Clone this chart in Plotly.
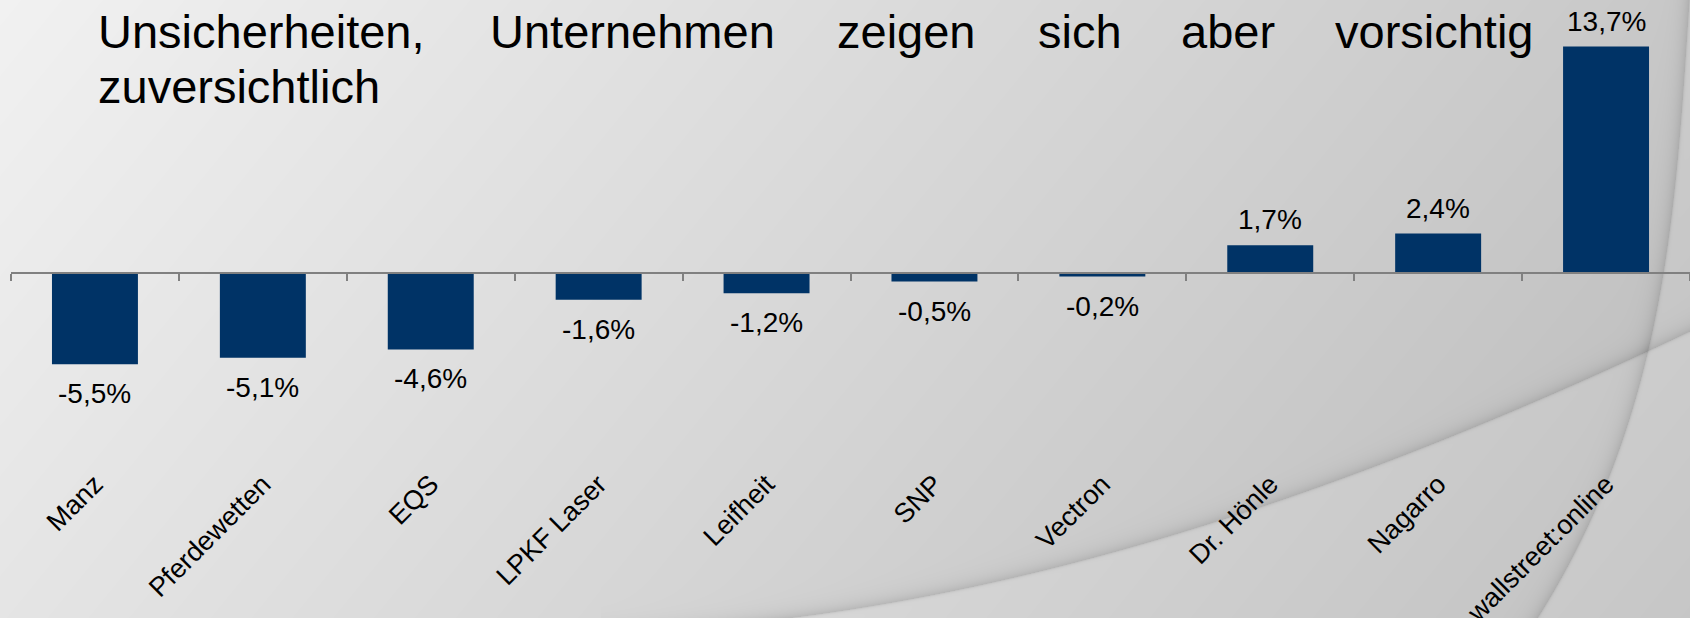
import base64
import struct
import zlib

import numpy as np
import plotly.graph_objects as go

# ---------------- data ----------------
categories = ["Manz", "Pferdewetten", "EQS", "LPKF Laser", "Leifheit",
              "SNP", "Vectron", "Dr. Hönle", "Nagarro", "wallstreet:online"]
values = [-5.5, -5.1, -4.6, -1.6, -1.2, -0.5, -0.2, 1.7, 2.4, 13.7]
title_line1 = ["Unsicherheiten,", "Unternehmen", "zeigen", "sich", "aber", "vorsichtig"]
title_line2 = "zuversichtlich"

# ---------------- geometry / style ----------------
W, H = 1690, 618
ML, MR, MT, MB = 11, 0, 0, 156
PW, PH = W - ML - MR, H - MT - MB
ZERO_PX = 273.3          # pixel row of the zero line
PX_PER_UNIT = 16.55      # pixels per percentage point
YMAX = (ZERO_PX - MT) / PX_PER_UNIT
YMIN = -(MT + PH - ZERO_PX) / PX_PER_UNIT

FONT = "Liberation Sans, Arial, sans-serif"
BAR_COLOR = "#003366"
AXIS_COLOR = "#808080"


def px(x):
    return (x - ML) / PW


def py(y):
    return 1 - (y - MT) / PH


# ---------------- background (gradient + decorative arcs) ----------------
def make_background():
    X, Y = np.meshgrid(np.arange(W, dtype=float), np.arange(H, dtype=float))
    base = 241 - 0.0245 * X - 0.02 * Y

    # arc 1: sweeping from bottom-middle up to the right edge (y as function of x)
    a1x = np.array([660, 754, 1007, 1168, 1276, 1390, 1460, 1540, 1650, 1700])
    a1y = np.array([632, 618, 576, 540, 505, 457, 430, 397, 350, 327])
    c1 = np.polyfit(a1x, a1y, 3)
    f1 = np.polyval(c1, X)
    s1 = np.polyval(np.polyder(c1), X)
    d1 = (Y - f1) / np.sqrt(1 + s1 ** 2)          # >0 below the arc
    valid1 = X > 600

    # arc 2: near-vertical curve on the right (x as function of y)
    a2y = np.array([0, 120, 220, 320, 410, 470, 530, 618])
    a2x = np.array([1689, 1680, 1670, 1655, 1632, 1610, 1585, 1537])
    c2 = np.polyfit(a2y, a2x, 3)
    g2 = np.polyval(c2, Y)
    s2 = np.polyval(np.polyder(c2), Y)
    d2 = (X - g2) / np.sqrt(1 + s2 ** 2)          # >0 right of the arc

    img = base.copy()
    img += np.where(valid1 & (d1 > 0), 6.0, 0.0)
    img += np.where(d2 > 0, 5.0, 0.0)
    sh1 = np.where(valid1 & (d1 <= 0), 24 * np.exp(d1 / 7.0), 0.0)
    sh1 += np.where(valid1 & (d1 > 0), 24 * np.exp(-d1 / 1.2), 0.0)
    sh2 = np.where(d2 <= 0, 24 * np.exp(d2 / 7.0), 0.0)
    sh2 += np.where(d2 > 0, 24 * np.exp(-d2 / 1.2), 0.0)
    img -= sh1 + sh2
    img = np.clip(np.round(img), 0, 255).astype(np.uint8)
    return np.repeat(img[:, :, None], 3, axis=2)


def png_data_uri(img):
    h, w, _ = img.shape
    a = img.astype(np.int16).reshape(h, w * 3)
    f = a.copy()
    f[:, 3:] = (a[:, 3:] - a[:, :-3]) % 256
    raw = np.hstack([np.ones((h, 1), dtype=np.int16), f]).astype(np.uint8).tobytes()

    def chunk(tag, data):
        c = struct.pack(">I", len(data)) + tag + data
        return c + struct.pack(">I", zlib.crc32(tag + data) & 0xFFFFFFFF)

    png = (b"\x89PNG\r\n\x1a\n"
           + chunk(b"IHDR", struct.pack(">IIBBBBB", w, h, 8, 2, 0, 0, 0))
           + chunk(b"IDAT", zlib.compress(raw, 9))
           + chunk(b"IEND", b""))
    return "data:image/png;base64," + base64.b64encode(png).decode()


bg_uri = png_data_uri(make_background())

# ---------------- figure ----------------
n = len(categories)
labels = [f"{v:.1f}".replace(".", ",") + "%" for v in values]

fig = go.Figure()
fig.add_trace(go.Bar(
    x=categories, y=values,
    marker=dict(color=BAR_COLOR, line=dict(width=0)),
    hoverinfo="x+y", showlegend=False,
))
# invisible helper trace that carries the zero-line axis
fig.add_trace(go.Scatter(
    x=list(range(n)), y=values, xaxis="x2", yaxis="y",
    mode="markers", marker=dict(opacity=0), hoverinfo="skip", showlegend=False,
))

annotations = []
for c, v, lab in zip(categories, values, labels):
    annotations.append(dict(
        x=c, y=v, xref="x", yref="y", text=lab, showarrow=False,
        yanchor="bottom" if v >= 0 else "top",
        yshift=8 if v >= 0 else -12,
        font=dict(family=FONT, size=28, color="black"),
    ))

title_x = [96, 488, 835, 1036, 1179, 1333]
for word, x0 in zip(title_line1, title_x):
    annotations.append(dict(
        x=px(x0), y=py(31), xref="paper", yref="paper", text=word, showarrow=False,
        xanchor="left", yanchor="middle",
        font=dict(family=FONT, size=47, color="black"),
    ))
annotations.append(dict(
    x=px(96), y=py(86), xref="paper", yref="paper", text=title_line2, showarrow=False,
    xanchor="left", yanchor="middle",
    font=dict(family=FONT, size=47, color="black"),
))

fig.update_layout(
    template="none",
    width=W, height=H,
    margin=dict(l=ML, r=MR, t=MT, b=MB, pad=0, autoexpand=False),
    paper_bgcolor="rgba(0,0,0,0)",
    plot_bgcolor="rgba(0,0,0,0)",
    bargap=0.488,
    showlegend=False,
    annotations=annotations,
    images=[dict(
        source=bg_uri, xref="paper", yref="paper",
        x=px(0), y=py(0), sizex=W / PW, sizey=H / PH,
        xanchor="left", yanchor="top", sizing="stretch", layer="below",
    )],
    xaxis=dict(
        type="category", categoryorder="array", categoryarray=categories,
        range=[-0.5, n - 0.5], automargin=False,
        showline=False, ticks="", showgrid=False, zeroline=False,
        tickangle=-45,
        tickfont=dict(family=FONT, size=27, color="black"),
    ),
    xaxis2=dict(
        overlaying="x", anchor="free", automargin=False,
        position=(0 - YMIN) / (YMAX - YMIN),
        range=[-0.5, n - 0.5],
        tickmode="array", tickvals=[i - 0.5 for i in range(n + 1)],
        showticklabels=False, showgrid=False, zeroline=False,
        showline=True, linecolor=AXIS_COLOR, linewidth=2,
        ticks="outside", ticklen=7, tickwidth=2, tickcolor=AXIS_COLOR,
    ),
    yaxis=dict(
        range=[YMIN, YMAX], visible=False, showgrid=False, zeroline=False,
        automargin=False,
    ),
)

fig.write_html(
    "out.html",
    config={"displayModeBar": False},
    post_script="document.body.style.margin='0';document.body.style.overflow='hidden';",
)
